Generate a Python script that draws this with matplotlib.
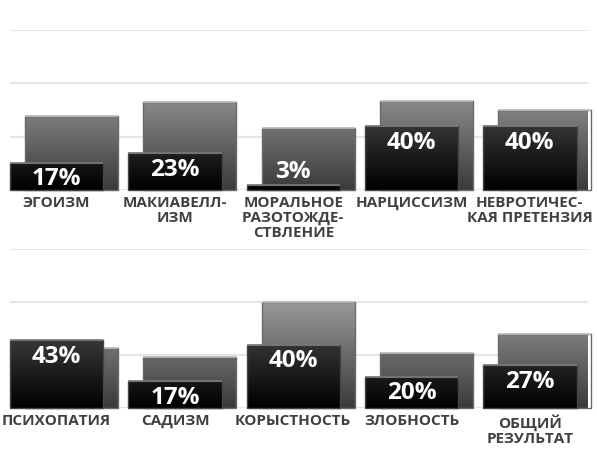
import matplotlib
matplotlib.use("Agg")
import matplotlib.pyplot as plt
from matplotlib.colors import LinearSegmentedColormap
import numpy as np

plt.rcParams["font.family"] = ["Open Sans", "DejaVu Sans"]

# ── data ─────────────────────────────────────────────────────────────────────
cats_top = ["ЭГОИЗМ", "МАКИАВЕЛЛ-\nИЗМ", "МОРАЛЬНОЕ\nРАЗОТОЖДЕ-\nСТВЛЕНИЕ",
            "НАРЦИССИЗМ", "НЕВРОТИЧЕС-\nКАЯ ПРЕТЕНЗИЯ"]
front_top = [17, 23, 3, 40, 40]
back_top = [46, 55, 38.5, 55.5, 50]

cats_bottom = ["ПСИХОПАТИЯ", "САДИЗМ", "КОРЫСТНОСТЬ", "ЗЛОБНОСТЬ",
               "ОБЩИЙ\nРЕЗУЛЬТАТ"]
front_bottom = [43, 17, 40, 20, 27]
back_bottom = [38, 32, 66.7, 34.5, 47]

# ── styles ───────────────────────────────────────────────────────────────────
W, H = 597, 470
STEP = 118.3          # px per category
FRONT_W = 93.3 / STEP
BACK_OFF = 15.0 / STEP
BACK_W = 93.0 / STEP

back_cmap = LinearSegmentedColormap.from_list("back", ["#3a3a3a", "#c9c9c9"])
front_cmap = LinearSegmentedColormap.from_list("front", ["#000000", "#828282"])
grad = np.linspace(0, 1, 256).reshape(-1, 1)


def gradient_bars(ax, xs, vals, width, cmap, edge, top_col, z):
    bars = ax.bar(xs, vals, width, align="edge", facecolor="none",
                  edgecolor=edge, linewidth=1, zorder=z + 0.1, clip_on=False)
    for b in bars:
        x0, w, h = b.get_x(), b.get_width(), b.get_height()
        im = ax.imshow(grad, extent=[x0, x0 + w, 0, 100], origin="lower",
                       aspect="auto", cmap=cmap, vmin=0, vmax=1, zorder=z)
        im.set_clip_path(b.get_path(), b.get_transform())
        im.set_clip_box(None)
        ax.plot([x0, x0 + w], [h, h], color=top_col, lw=1.2,
                zorder=z + 0.2, clip_on=False, solid_capstyle="butt")
    return bars


def panel(ax, cats, front, back):
    idx = np.arange(len(cats))
    gradient_bars(ax, idx + BACK_OFF, back, BACK_W, back_cmap,
                  "#6a6a6a", "#bdbdbd", 2)
    gradient_bars(ax, idx, front, FRONT_W, front_cmap,
                  "#454545", "#7a7a7a", 3)
    for i, v in zip(idx, front):
        off = 9.5 if v < 10 else -12
        ax.annotate(f"{v}%", (i + FRONT_W / 2, v), xytext=(0, off),
                    textcoords="offset points", ha="center", va="center",
                    color="white", fontsize=17.5, fontweight="bold", zorder=5)
    ax.set_xlim(0, 578 / STEP)
    ax.set_ylim(0, 100)
    ax.set_yticks([0, 100 / 3, 200 / 3, 100])
    ax.set_yticklabels([])
    ax.grid(axis="y", color="#e6e6e6", lw=1.5)
    ax.set_axisbelow(True)
    ax.set_xticks(idx + FRONT_W / 2)
    ax.set_xticklabels(cats, fontsize=11.0, fontweight="bold", color="#404040",
                       linespacing=1.1)
    ax.tick_params(length=0, pad=4)
    for s in ax.spines.values():
        s.set_visible(False)


fig = plt.figure(figsize=(W / 100, H / 100), dpi=100)
ax_top = fig.add_axes([10 / W, (H - 190) / H, 578 / W, 160 / H])
ax_bot = fig.add_axes([10 / W, (H - 408.3) / H, 578 / W, 159 / H])

panel(ax_top, cats_top, front_top, back_top)
panel(ax_bot, cats_bottom, front_bottom, back_bottom)

fig.savefig("out.png", dpi=100)
